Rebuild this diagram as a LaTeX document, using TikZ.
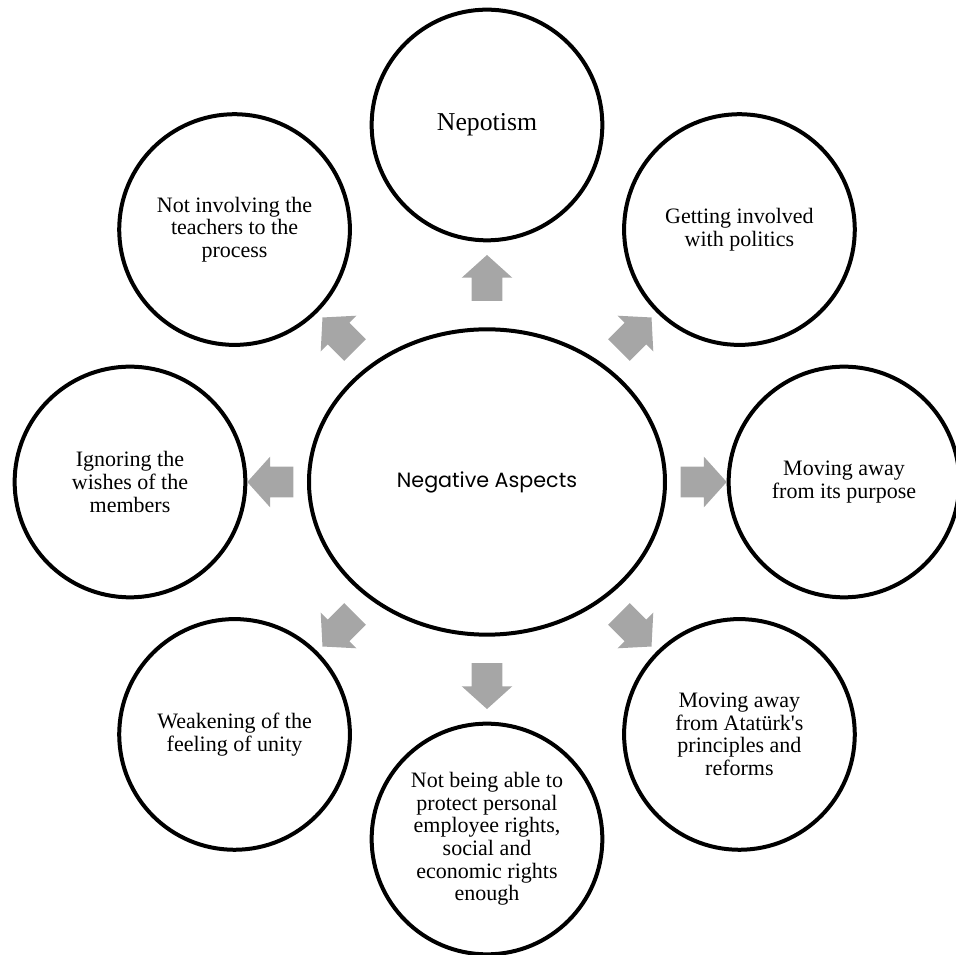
\documentclass[tikz,border=0pt]{standalone}
\usepackage{fontspec}
\setmainfont{Liberation Serif}
\newfontfamily\headfont{Poppins}
\usetikzlibrary{shapes.geometric,shapes.arrows,calc}
\definecolor{arrowgray}{RGB}{166,166,166}

\begin{document}
\begin{tikzpicture}[x=0.75pt,y=0.75pt,
    sty1/.style={circle, draw=black, line width=3pt, minimum size=173pt,
      inner sep=0pt, align=center, font=\fontsize{16.5}{16.9}\selectfont},
    sty2/.style={ellipse, draw=black, line width=3pt, minimum width=267pt,
      minimum height=229pt, font=\headfont\fontsize{15.5}{18}\selectfont},
    sty3/.style={single arrow, fill=arrowgray, draw=none, inner xsep=0pt,
      inner ysep=11.25pt, minimum height=34.5pt,
      single arrow head extend=7.5pt, single arrow tip angle=96}]

\useasboundingbox (-487,-473) rectangle (469,482);

% Center ellipse
\node[sty2] (asp) at (0,0) {Negative Aspects};

% Outer circles, clockwise from the top
\node[sty1, font=\fontsize{19.3}{23}\selectfont] (nep) at (90:357) {Nepotism};
\node[sty1] (pol) at (45:357) {Getting involved\\with politics};
\node[sty1] (pur) at (0:357) {Moving away\\from its purpose};
\node[sty1] (atk) at (-45:357) {Moving away\\from Atatürk\textquotesingle s\\principles and\\reforms};
\node[sty1] (rig) at (-90:357) {Not being able to\\protect personal\\employee rights,\\social and\\economic rights\\enough};
\node[sty1] (uni) at (-135:357) {Weakening of the\\feeling of unity};
\node[sty1] (wis) at (180:357) {Ignoring the\\wishes of the\\members};
\node[sty1] (tea) at (135:357) {Not involving the\\teachers to the\\process};

% Block arrows, half way between ellipse and circle
\foreach \n/\a/\b in {nep/90/270, pol/45/225, pur/0/180, atk/-45/135,
    rig/-90/90, uni/-135/45, wis/180/0, tea/135/-45}
  \node[sty3, rotate=\a] at ($(asp.\a)!0.5!(\n.\b)$) {};

\end{tikzpicture}
\end{document}
